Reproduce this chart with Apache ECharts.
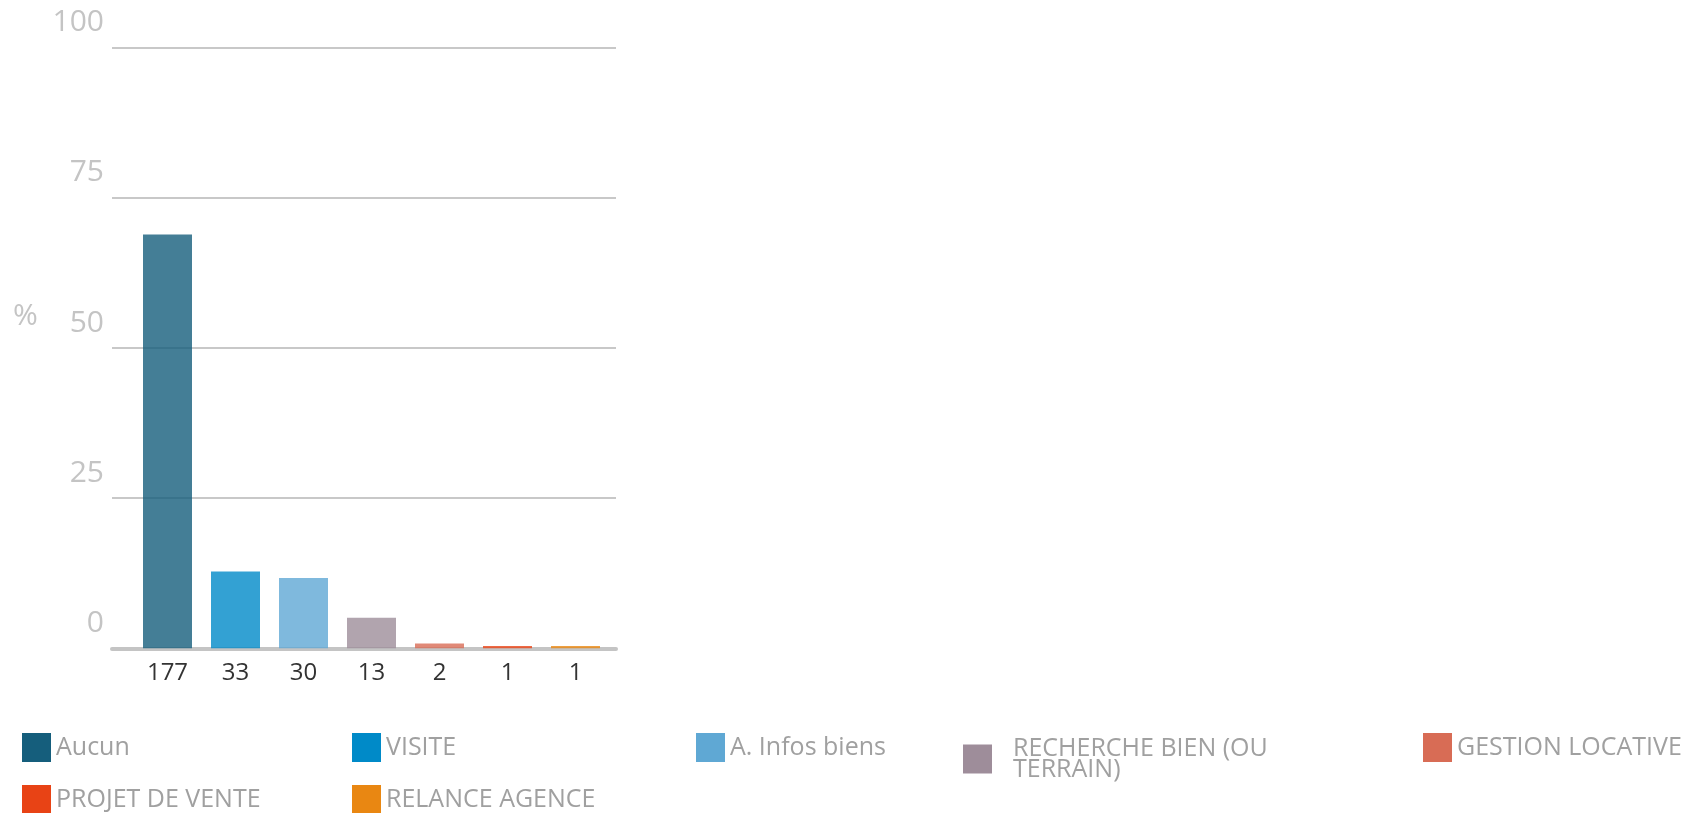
<!DOCTYPE html>
<html>
<head>
<meta charset="utf-8">
<script src="https://cdn.jsdelivr.net/npm/echarts@6/dist/echarts.min.js"></script>
<style>
html,body{margin:0;padding:0;background:#fff;}
#main{width:1693px;height:813px;}
</style>
</head>
<body>
<div id="main"></div>
<script>
const seriesNames = ['Aucun', 'VISITE', 'A. Infos biens', 'RECHERCHE BIEN (OU TERRAIN)', 'GESTION LOCATIVE', 'PROJET DE VENTE', 'RELANCE AGENCE'];
const counts = ['177', '33', '30', '13', '2', '1', '1'];
const percents = [68.9, 12.8, 11.7, 5.1, 0.8, 0.4, 0.4];
const colors = ['#155e7c', '#008ac8', '#5fa8d4', '#9e8d9a', '#d86c55', '#e84315', '#e98712'];
const yTicks = [0, 25, 50, 75, 100];

const legendPos = [
  {left: 22, top: 733},
  {left: 352, top: 733},
  {left: 696, top: 733},
  {left: 963, top: 733, pad: [0, 0, 10, 16]},
  {left: 1423, top: 733},
  {left: 22, top: 785},
  {left: 352, top: 785}
];

const chart = echarts.init(document.getElementById('main'));

const series = seriesNames.map((name, i) => ({
  name: name,
  type: 'bar',
  xAxisIndex: 1,
  yAxisIndex: 1,
  stack: 'all',
  barWidth: 49,
  itemStyle: {color: colors[i], opacity: 0.8},
  emphasis: {disabled: true},
  data: counts.map((c, j) => (j === i ? percents[i] : '-'))
}));

const legends = seriesNames.map((name, i) => ({
  data: [{name: name, itemStyle: {color: colors[i], opacity: 1}}],
  left: legendPos[i].left,
  top: legendPos[i].top,
  padding: 0,
  icon: 'rect',
  itemWidth: 29,
  itemHeight: 29,
  selectedMode: false,
  formatter: i === 3 ? 'RECHERCHE BIEN (OU\nTERRAIN)' : '{name}',
  textStyle: {
    fontFamily: 'Open Sans',
    fontSize: 25,
    color: '#a0a0a0',
    lineHeight: i === 3 ? 21 : 27,
    padding: legendPos[i].pad ? legendPos[i].pad : 0
  }
}));

chart.setOption({
  animation: false,
  title: {
    text: '%', left: 13, top: 301, padding: 0,
    textStyle: {fontFamily: 'Open Sans', fontSize: 30, fontWeight: 'normal', color: '#c4c4c4'}
  },
  grid: [
    {left: 112, width: 504, top: 47.7, bottom: 164.7},
    {left: 133.5, width: 476, top: 47.7, bottom: 164.7}
  ],
  xAxis: [
    {
      gridIndex: 0, type: 'category', data: [''],
      axisLine: {show: true, lineStyle: {color: '#c4c4c4', width: 4}},
      axisTick: {show: false}, axisLabel: {show: false}, splitLine: {show: false}
    },
    {
      gridIndex: 1, type: 'category', data: counts,
      axisLine: {show: false}, axisTick: {show: false},
      axisLabel: {fontFamily: 'Open Sans', fontSize: 24, color: '#333', margin: 13}
    }
  ],
  yAxis: [
    {
      gridIndex: 0, type: 'value', min: yTicks[0], max: yTicks[yTicks.length - 1], interval: 25,
      axisLine: {show: false}, axisTick: {show: false},
      axisLabel: {fontFamily: 'Open Sans', fontSize: 30, color: '#c4c4c4', margin: 8, verticalAlign: 'bottom', padding: [0, 0, 10, 0]},
      splitLine: {show: true, lineStyle: {color: '#c8c8c8', width: 2}}
    },
    {
      gridIndex: 1, type: 'value', min: yTicks[0], max: yTicks[yTicks.length - 1], show: false,
      splitLine: {show: false}
    }
  ],
  legend: legends,
  series: series
});
</script>
</body>
</html>
